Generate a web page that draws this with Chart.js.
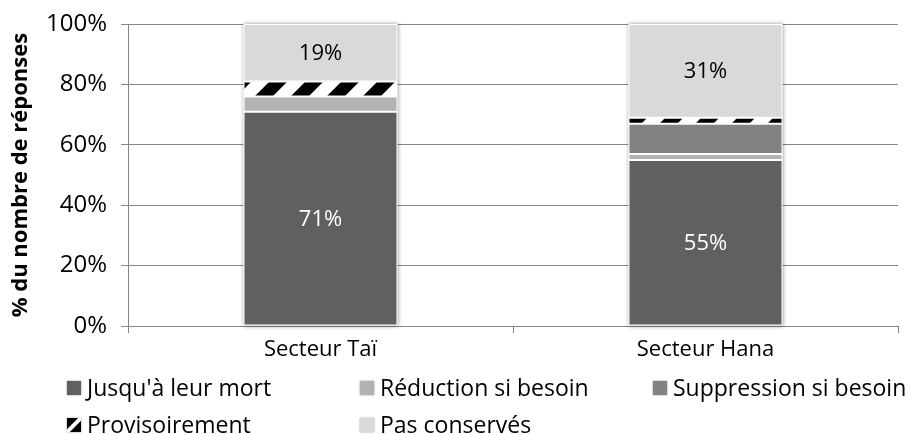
<!DOCTYPE html>
<html>
<head>
<meta charset="utf-8">
<script src="https://cdn.jsdelivr.net/npm/chart.js@4.4.1/dist/chart.umd.min.js"></script>
<style>
  html, body { margin: 0; padding: 0; background: #fff; }
</style>
</head>
<body>
<canvas id="chart" width="912" height="434"></canvas>
<script>
const sectors = ["Secteur Taï", "Secteur Hana"];
const jusquaLeurMort = [71, 55];
const reductionSiBesoin = [5, 2];
const suppressionSiBesoin = [0, 10];
const provisoirement = [5, 2];
const pasConserves = [19, 31];
const labelled = [0, 4]; // datasets whose values are printed on the bars

const FONT = "'Open Sans', sans-serif";
Chart.defaults.font.family = FONT;
Chart.defaults.color = "#000";

// wide upward diagonal hatch, black on white
function hatch() {
  const t = 36;
  const c = document.createElement("canvas");
  c.width = t;
  c.height = t;
  const g = c.getContext("2d");
  g.fillStyle = "#fff";
  g.fillRect(0, 0, t, t);
  g.strokeStyle = "#000";
  g.lineWidth = t / (2 * Math.SQRT2);
  for (const k of [-t, 0, t]) {
    g.beginPath();
    g.moveTo(k, t);
    g.lineTo(k + t, 0);
    g.stroke();
  }
  return g.createPattern(c, "repeat");
}
const stripes = hatch();

// soft shadow behind each stacked column, like the original
const columnShadow = {
  id: "columnShadow",
  beforeDatasetsDraw(chart) {
    const ctx = chart.ctx;
    const metas = chart.getSortedVisibleDatasetMetas();
    ctx.save();
    ctx.shadowColor = "rgba(0,0,0,0.45)";
    ctx.shadowBlur = 4;
    ctx.fillStyle = "#fff";
    sectors.forEach((s, j) => {
      const bottom = metas[0].data[j];
      let top = bottom.y;
      metas.forEach((m) => { top = Math.min(top, m.data[j].y); });
      ctx.fillRect(bottom.x - bottom.width / 2, top, bottom.width, bottom.base - top);
    });
    ctx.restore();
  },
  afterDatasetsDraw(chart) {
    const ctx = chart.ctx;
    ctx.save();
    ctx.font = "22px " + FONT;
    ctx.textAlign = "center";
    ctx.textBaseline = "middle";
    labelled.forEach((d) => {
      const meta = chart.getDatasetMeta(d);
      meta.data.forEach((bar, j) => {
        ctx.fillStyle = d === 0 ? "#fff" : "#000";
        ctx.fillText(chart.data.datasets[d].data[j] + "%", bar.x, (bar.y + bar.base) / 2 + 1);
      });
    });
    ctx.restore();
  },
};

// legend laid out as a grid of three columns
const gridLegend = {
  id: "gridLegend",
  afterDraw(chart) {
    const ctx = chart.ctx;
    const cols = [67, 360, 653];
    const rows = [388, 425];
    ctx.save();
    ctx.font = "23px " + FONT;
    ctx.textBaseline = "middle";
    chart.data.datasets.forEach((ds, i) => {
      const x = cols[i % 3];
      const y = rows[Math.floor(i / 3)];
      ctx.save();
      ctx.shadowColor = "rgba(0,0,0,0.4)";
      ctx.shadowBlur = 2;
      const hatched = ds.backgroundColor === stripes;
      ctx.fillStyle = hatched ? "#000" : ds.backgroundColor;
      ctx.fillRect(x, y - 7, 14, 14);
      ctx.restore();
      if (hatched) {
        // small swatch: black with one white diagonal band
        ctx.save();
        ctx.beginPath();
        ctx.rect(x, y - 7, 14, 14);
        ctx.clip();
        ctx.strokeStyle = "#fff";
        ctx.lineWidth = 4;
        ctx.beginPath();
        ctx.moveTo(x - 1, y + 8);
        ctx.lineTo(x + 15, y - 8);
        ctx.stroke();
        ctx.restore();
      }
      ctx.fillStyle = "#000";
      ctx.fillText(ds.label, x + 20, y + 1);
    });
    ctx.restore();
  },
};

const seg = (label, data, color) => ({
  label: label,
  data: data,
  backgroundColor: color,
  borderColor: "#fff",
  borderWidth: 1,
  borderSkipped: false,
  categoryPercentage: 1,
  barPercentage: 0.4,
});

new Chart(document.getElementById("chart"), {
  type: "bar",
  data: {
    labels: sectors,
    datasets: [
      seg("Jusqu'à leur mort", jusquaLeurMort, "#606060"),
      seg("Réduction si besoin", reductionSiBesoin, "#b2b2b2"),
      seg("Suppression si besoin", suppressionSiBesoin, "#828282"),
      seg("Provisoirement", provisoirement, stripes),
      seg("Pas conservés", pasConserves, "#d9d9d9"),
    ],
  },
  options: {
    responsive: false,
    animation: false,
    devicePixelRatio: 1,
    layout: { padding: { top: 0, right: 14, left: 0, bottom: 0 } },
    scales: {
      x: {
        stacked: true,
        offset: true,
        grid: {
          offset: true,
          drawOnChartArea: false,
          tickLength: 7,
          color: "#868686",
        },
        border: { color: "#868686" },
        ticks: { font: { size: 22 }, padding: 4 },
        afterFit: (scale) => { scale.height = 108; },
      },
      y: {
        stacked: true,
        min: 0,
        max: 100,
        grid: { color: "#868686", tickLength: 7 },
        border: { color: "#868686" },
        ticks: {
          stepSize: 20,
          padding: 14,
          font: { size: 24, lineHeight: 0.84 },
          callback: (v) => v + "%",
        },
        title: {
          display: true,
          text: "% du nombre de réponses",
          font: { size: 22, weight: "bold" },
          padding: { top: 8, bottom: 0 },
        },
        afterFit: (scale) => { scale.width = 128; },
      },
    },
    plugins: {
      legend: { display: false },
      tooltip: { enabled: false },
    },
  },
  plugins: [columnShadow, gridLegend],
});
</script>
</body>
</html>
